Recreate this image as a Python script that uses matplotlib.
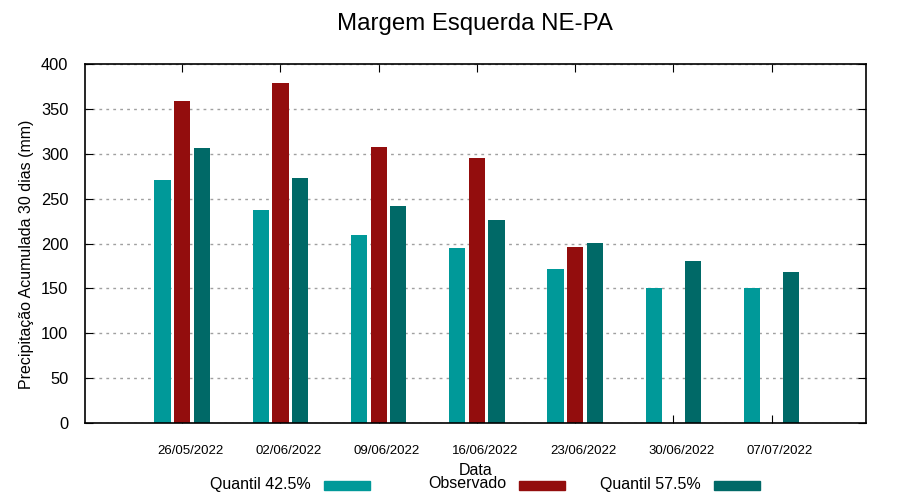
import numpy as np
import matplotlib.pyplot as plt
from matplotlib.patches import Rectangle
from matplotlib.transforms import ScaledTranslation

plt.rcParams['font.family'] = ['Liberation Sans', 'DejaVu Sans']

# -------------------------
# Data
# -------------------------
datas = ["26/05/2022", "02/06/2022", "09/06/2022", "16/06/2022",
         "23/06/2022", "30/06/2022", "07/07/2022"]
quantil_425 = [271, 237, 209, 195, 172, 150, 150]
observado = [359, 379, 308, 295, 196, np.nan, np.nan]
quantil_575 = [306, 273, 242, 226, 201, 180, 168]

series = ["Quantil 42.5%", "Observado", "Quantil 57.5%"]
cores = ["#009999", "#930d0d", "#006967"]

# -------------------------
# Plot
# -------------------------
fig = plt.figure(figsize=(9, 5), dpi=100)
ax = fig.add_axes([0.0944, 0.154, 0.8678, 0.718])

x = np.arange(len(datas))
w = 0.165
for off, vals, c in zip([-0.2, 0, 0.2], [quantil_425, observado, quantil_575], cores):
    ax.bar(x + off, vals, w, color=c)

ax.set_xlim(-0.99, 6.96)
ax.set_ylim(0, 400)
ax.set_yticks(range(0, 401, 50))
ax.set_xticks(x)
ax.set_xticklabels(datas, fontsize=9.5)

ax.tick_params(axis="x", direction="in", top=True, length=6, pad=16)
ax.tick_params(axis="y", direction="in", right=True, length=6, labelsize=11.8, pad=12)
ax.yaxis.grid(True, linestyle=(0, (2, 3)), color="#a0a0a0", linewidth=1)
ax.set_axisbelow(True)
for s in ax.spines.values():
    s.set_linewidth(1.2)

# gnuplot-style label offset to the right (after tick_params, which resets transforms)
shift = ScaledTranslation(8 / 100, 0, fig.dpi_scale_trans)
for lab in ax.get_xticklabels():
    lab.set_transform(lab.get_transform() + shift)

fig.text(0.528, 0.952, "Margem Esquerda NE-PA", fontsize=17.3, ha="center", va="center")
ax.set_ylabel("Precipitação Acumulada 30 dias (mm)", fontsize=11.5)
ax.yaxis.set_label_coords(-0.0653, 0.471)
ax.set_xlabel("Data", fontsize=11.5, labelpad=4)

# legend below the axes: label right-aligned, swatch on its right
for i, (lab, c) in enumerate(zip(series, cores)):
    xr = (311 + 195 * i) / 900
    fig.text(xr, 0.032, lab, fontsize=11.5, ha="right", va="center")
    fig.patches.append(Rectangle((xr + 13 / 900, 0.02), 46 / 900, 9 / 500,
                                 color=c, transform=fig.transFigure))

fig.savefig("out.png", dpi=100)
